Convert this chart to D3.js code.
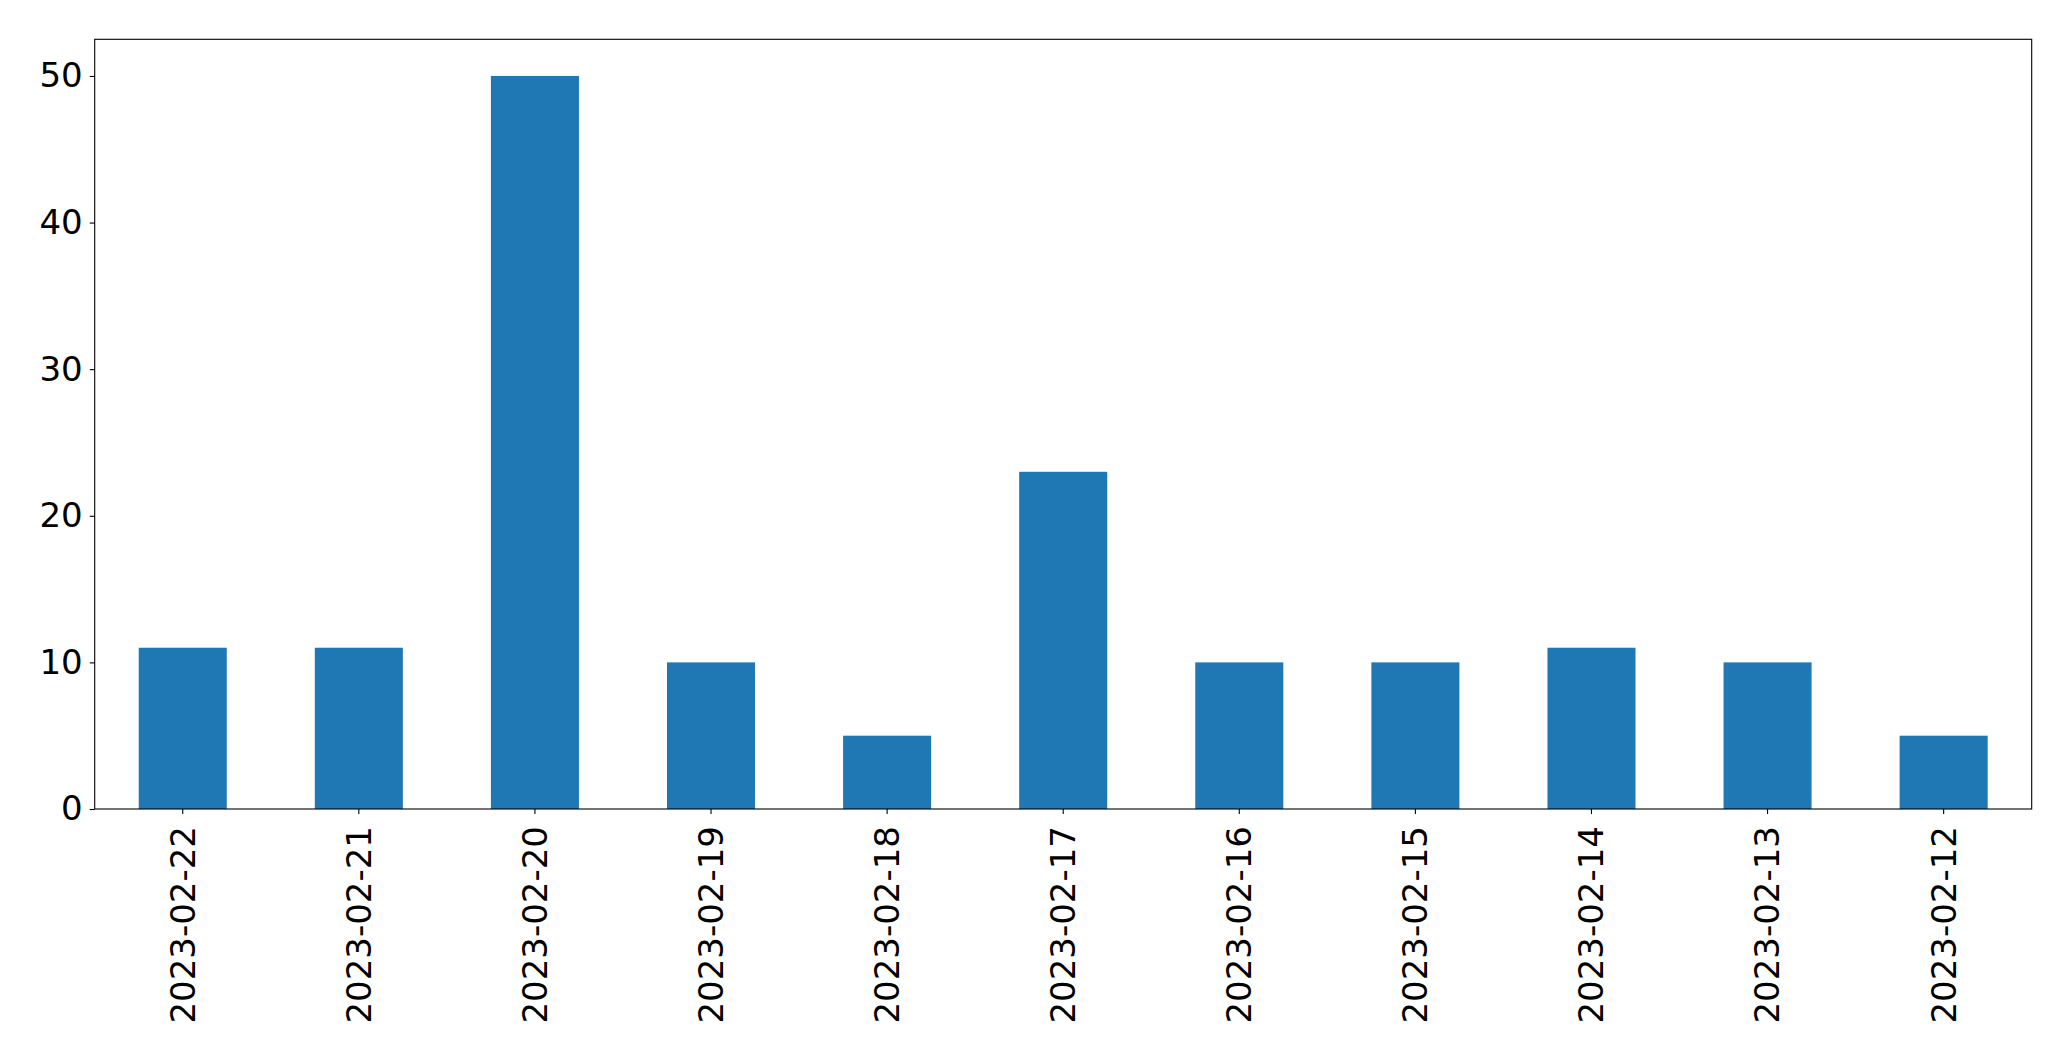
<!DOCTYPE html>
<html>
<head>
<meta charset="utf-8">
<script src="https://cdn.jsdelivr.net/npm/d3@7"></script>
<style>
  html, body { margin: 0; padding: 0; background: #fff; }
  svg { display: block; }
  .tick text { font-family: "DejaVu Sans", sans-serif; font-size: 34px; fill: #000; }
</style>
</head>
<body>
<div id="chart"></div>
<script>
// data
const dates = ["2023-02-22", "2023-02-21", "2023-02-20", "2023-02-19", "2023-02-18",
               "2023-02-17", "2023-02-16", "2023-02-15", "2023-02-14", "2023-02-13", "2023-02-12"];
const counts = [11, 11, 50, 10, 5, 23, 10, 10, 11, 10, 5];
const yTicks = [0, 10, 20, 30, 40, 50];

const WIDTH = 2071;
const HEIGHT = 1061;
const LEFT = 94.7, RIGHT = 2031.7, TOP = 39.3, BOTTOM = 809;

const svg = d3.select("#chart")
              .append("svg")
              .attr("width", WIDTH)
              .attr("height", HEIGHT);

let xScale = d3.scaleBand()
               .domain(dates)
               .range([LEFT, RIGHT])
               .paddingInner(0.5)
               .paddingOuter(0.25);

let yScale = d3.scaleLinear()
               .domain([0, 52.5])
               .range([BOTTOM, TOP]);

svg.selectAll("rect.bar")
   .data(dates)
   .enter()
   .append("rect")
   .attr("class", "bar")
   .attr("x", (d) => xScale(d))
   .attr("y", (d, i) => yScale(counts[i]))
   .attr("width", xScale.bandwidth())
   .attr("height", (d, i) => BOTTOM - yScale(counts[i]))
   .attr("fill", "#1f77b4");

// axes
let xAxis = d3.axisBottom(xScale).tickSize(5).tickPadding(6);
let gx = svg.append("g")
            .attr("transform", "translate(0," + BOTTOM + ")")
            .call(xAxis);
gx.select(".domain").remove();
gx.selectAll(".tick line").attr("stroke", "#000").attr("stroke-width", 1.1);
gx.selectAll(".tick text")
  .attr("transform", "rotate(-90)")
  .attr("text-anchor", "end")
  .attr("x", -17)
  .attr("y", 0)
  .attr("dy", "0.35em");

let yAxis = d3.axisLeft(yScale).tickValues(yTicks).tickSize(5).tickPadding(7);
let gy = svg.append("g")
            .attr("transform", "translate(" + LEFT + ",0)")
            .call(yAxis);
gy.select(".domain").remove();
gy.selectAll(".tick line").attr("stroke", "#000").attr("stroke-width", 1.1);

// frame
svg.append("rect")
   .attr("x", LEFT)
   .attr("y", TOP)
   .attr("width", RIGHT - LEFT)
   .attr("height", BOTTOM - TOP)
   .attr("fill", "none")
   .attr("stroke", "#000")
   .attr("stroke-width", 1.1);
</script>
</body>
</html>
